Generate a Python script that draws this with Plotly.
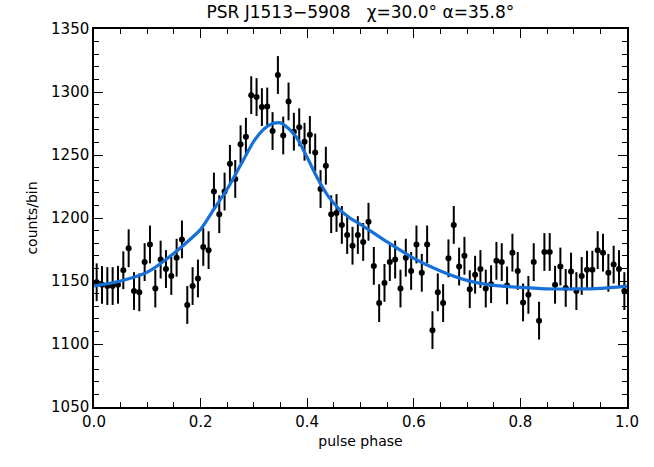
import plotly.graph_objects as go

# pulse profile, 100 phase bins
phase = [0.005 + 0.01 * i for i in range(100)]
counts = [
    1149, 1147, 1146, 1146, 1147, 1158.5, 1176, 1142, 1141, 1165,
    1179, 1144, 1167, 1159.5, 1154, 1168.5, 1183, 1131, 1146, 1152,
    1177, 1174.5, 1221, 1203, 1221, 1243, 1231, 1258.5, 1264.5, 1297.5,
    1296, 1288, 1288.5, 1269, 1313.5, 1265.5, 1292.5, 1268.5, 1272, 1260.5,
    1266, 1252, 1223, 1241.5, 1203, 1204, 1194.5, 1186.5, 1178, 1186.5,
    1181, 1197, 1162, 1132.5, 1148.5, 1165, 1167, 1144, 1168.5, 1158,
    1179, 1156.5, 1179, 1111, 1141, 1132.5, 1168, 1194.5, 1161.5, 1170,
    1143.5, 1155, 1159.5, 1144, 1147.5, 1166, 1165, 1146.5, 1172.5, 1158,
    1133, 1139, 1165, 1118.5, 1173, 1173, 1147, 1161.5, 1144.5, 1157.5,
    1142, 1154, 1159, 1159, 1174.5, 1172.5, 1156.5, 1163, 1159.5, 1142,
]
count_err = 15

# fitted model light curve
model_phase = [0.0, 0.05, 0.1, 0.15, 0.2, 0.225, 0.25, 0.275, 0.3, 0.32,
               0.335, 0.35, 0.365, 0.38, 0.4, 0.42, 0.44, 0.46, 0.48, 0.5,
               0.55, 0.6, 0.65, 0.7, 0.75, 0.8, 0.85, 0.9, 0.95, 1.0]
model_counts = [1146, 1150, 1157, 1172, 1191, 1207, 1223, 1242, 1261, 1271,
                1275, 1275.5, 1271, 1264, 1248, 1231, 1217, 1207, 1200, 1195,
                1181, 1168, 1158, 1150.5, 1146.5, 1145, 1143.8, 1143.7, 1144.2, 1146]

fig = go.Figure()

fig.add_trace(go.Scatter(
    x=phase, y=counts, mode='markers',
    marker=dict(color='black', size=6),
    error_y=dict(type='constant', value=count_err, color='black', thickness=2, width=0),
    showlegend=False,
))

fig.add_trace(go.Scatter(
    x=model_phase, y=model_counts, mode='lines',
    line=dict(color='#1570d8', width=3.2, shape='spline', smoothing=0.6),
    showlegend=False,
))

font = 'DejaVu Sans'
axis_common = dict(
    showline=True, linecolor='black', linewidth=1.5, mirror='allticks',
    ticks='inside', ticklen=9, tickwidth=1.2, tickcolor='black',
    showgrid=False, zeroline=False,
    tickfont=dict(family=font, size=15, color='black'),
)

fig.update_layout(
    width=654, height=467,
    margin=dict(l=94, r=27, t=29, b=60),
    paper_bgcolor='white', plot_bgcolor='white',
    title=dict(text='PSR J1513\u22125908   \u03c7=30.0\u00b0 \u03b1=35.8\u00b0',
               x=0.551, xanchor='center', y=0.974, yanchor='middle',
               font=dict(family=font, size=17, color='black')),
    xaxis=dict(range=[0, 1], tickvals=[0, 0.2, 0.4, 0.6, 0.8, 1.0],
               ticktext=['0.0', '0.2', '0.4', '0.6', '0.8', '1.0'],
               minor=dict(ticks='inside', dtick=0.05, ticklen=5, tickcolor='black'),
               title=dict(text='pulse phase', standoff=6,
                          font=dict(family=font, size=14, color='black')),
               **axis_common),
    yaxis=dict(range=[1050, 1350], dtick=50, tick0=1050,
               minor=dict(ticks='inside', dtick=10, ticklen=5, tickcolor='black'),
               title=dict(text='counts/bin', standoff=10,
                          font=dict(family=font, size=14, color='black')),
               **axis_common),
)

# drop the default body margin so the figure sits at the page corner
fig.write_html('out.html', config={'displayModeBar': False},
               post_script="document.body.style.margin='0px';")
